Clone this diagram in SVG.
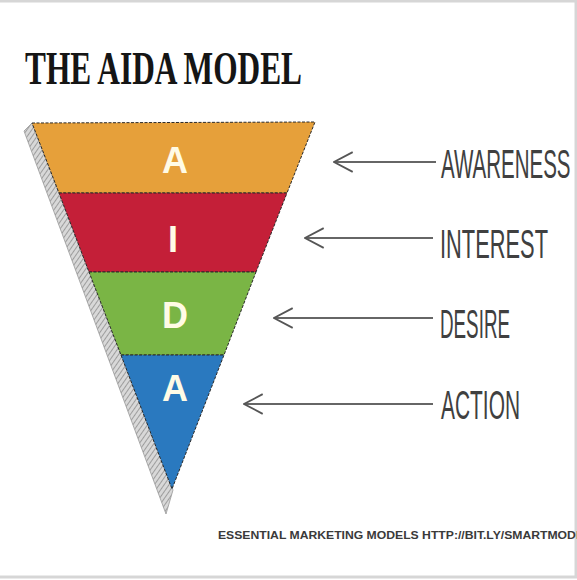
<svg xmlns="http://www.w3.org/2000/svg" width="577" height="580" viewBox="0 0 577 580">
<defs>
<pattern id="hatch" width="4" height="4" patternUnits="userSpaceOnUse" patternTransform="rotate(35)">
<rect width="4" height="4" fill="#d8d8d8"/>
<line x1="0" y1="0" x2="0" y2="4" stroke="#8a8a8a" stroke-width="1.5"/>
</pattern>
<marker id="chev" viewBox="0 0 20 20" refX="19" refY="10" markerWidth="22" markerHeight="22" markerUnits="userSpaceOnUse" orient="auto">
<path d="M2,1 L19,10 L2,19" fill="none" stroke="#555" stroke-width="1.6"/>
</marker>
<style>
.seg{stroke:#2a2a2a;stroke-width:1;stroke-dasharray:3 1.5}
.let{font-family:"Liberation Sans",Arial,sans-serif;font-weight:bold;font-size:36px;fill:#fffbe6;text-anchor:middle}
.lbl{font-family:"Liberation Sans",Arial,sans-serif;font-size:40px;fill:#404040}
.arr{stroke:#666;stroke-width:2;fill:none}
</style>
</defs>
<rect x="0" y="0" width="577" height="580" fill="#ffffff"/>
<rect x="-2" y="1" width="578" height="576" fill="none" stroke="#d6d6d6" stroke-width="3"/>
<g id="title">
<text x="25" y="84" font-family="Liberation Serif,serif" font-weight="bold" font-size="46" fill="#151515" textLength="277" lengthAdjust="spacingAndGlyphs">THE AIDA MODEL</text>
</g>
<g id="funnel">
<g id="shadow"><polygon points="32,123 24,131 166,514 173,490" fill="url(#hatch)" stroke="#999" stroke-width="0.8"/></g>
<g id="node-awareness"><polygon class="seg" points="32,123 315,122 287,193 59,193" fill="#e6a03a"/><text class="let" x="175" y="173">A</text></g>
<g id="node-interest"><polygon class="seg" points="59,193 287,193 256,272 89,272" fill="#c41f38"/><text class="let" x="173" y="252">I</text></g>
<g id="node-desire"><polygon class="seg" points="89,272 256,272 224,355 121,355" fill="#7ab545"/><text class="let" x="175" y="328">D</text></g>
<g id="node-action"><polygon class="seg" points="121,355 224,355 172,489" fill="#2a79bf"/><text class="let" x="175" y="401">A</text></g>
</g>
<g id="connectors">
<line class="arr" x1="436" y1="162" x2="334" y2="162" marker-end="url(#chev)"/>
<line class="arr" x1="433" y1="238" x2="305" y2="238" marker-end="url(#chev)"/>
<line class="arr" x1="433" y1="318" x2="274" y2="318" marker-end="url(#chev)"/>
<line class="arr" x1="433" y1="404" x2="244" y2="404" marker-end="url(#chev)"/>
</g>
<g id="labels">
<text class="lbl" transform="translate(441,178) scale(0.513,1)">AWARENESS</text>
<text class="lbl" transform="translate(440,258) scale(0.546,1)">INTEREST</text>
<text class="lbl" transform="translate(440,338) scale(0.47,1)">DESIRE</text>
<text class="lbl" transform="translate(441,419) scale(0.523,1)">ACTION</text>
</g>
<g id="footer">
<text x="218" y="539" font-family="Liberation Sans,Arial,sans-serif" font-weight="bold" font-size="11" fill="#3a3a3a" textLength="366" lengthAdjust="spacingAndGlyphs">ESSENTIAL MARKETING MODELS HTTP://BIT.LY/SMARTMODE</text>
</g>
</svg>
